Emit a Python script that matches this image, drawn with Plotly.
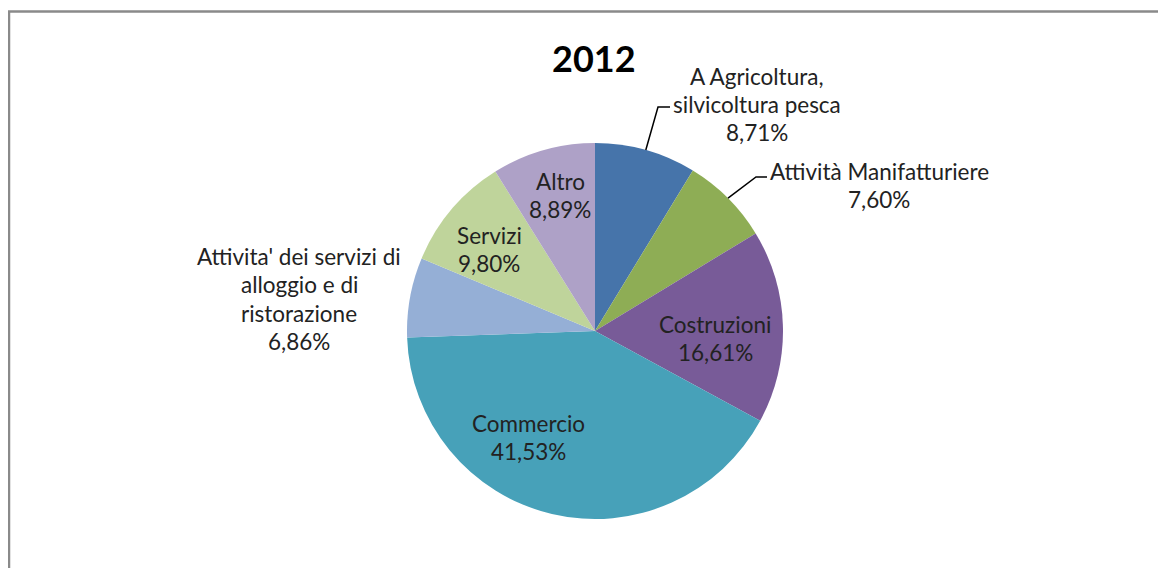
import math
import plotly.graph_objects as go

# ---- data ----
categories = [
    "A Agricoltura, silvicoltura pesca",
    "Attività Manifatturiere",
    "Costruzioni",
    "Commercio",
    "Attivita' dei servizi di alloggio e di ristorazione",
    "Servizi",
    "Altro",
]
values = [8.71, 7.60, 16.61, 41.53, 6.86, 9.80, 8.89]
pct_labels = ["8,71%", "7,60%", "16,61%", "41,53%", "6,86%", "9,80%", "8,89%"]
label_lines = [
    ["A Agricoltura,", "silvicoltura pesca"],
    ["Attività Manifatturiere"],
    ["Costruzioni"],
    ["Commercio"],
    ["Attivita' dei servizi di", "alloggio e di", "ristorazione"],
    ["Servizi"],
    ["Altro"],
]
colors = ["#4674AA", "#8EAD55", "#785B98", "#47A1B9", "#95AFD6", "#BFD49B", "#AEA1C7"]
title_text = "2012"

# ---- layout geometry (window pixels; page body has an 8px margin) ----
OFF = 8
W, H = 1166 - OFF, 568 - OFF
CX, CY, R = 595, 331, 188
FONT = "Lato, 'Open Sans', sans-serif"
LINE_H = 28.5


def px(x):
    return (x - OFF) / W


def py(y):
    return 1 - (y - OFF) / H


fig = go.Figure(go.Pie(
    labels=categories,
    values=values,
    sort=False,
    direction="clockwise",
    rotation=0,
    marker=dict(colors=colors, line=dict(width=0)),
    textinfo="none",
    hoverinfo="label+percent",
    showlegend=False,
    domain=dict(x=[px(CX - R), px(CX + R)], y=[py(CY + R), py(CY - R)]),
))

# label anchor centres (pixels): x, y of first line
label_pos = [
    (757, 76),
    (879, 171),
    (715, 324),
    (528, 423),
    (299, 256),
    (489, 235),
    (560, 181),
]

annotations = []
for lines, pct, (lx, ly) in zip(label_lines, pct_labels, label_pos):
    for i, t in enumerate(lines + [pct]):
        annotations.append(dict(
            x=px(lx), y=py(ly + i * LINE_H), xref="paper", yref="paper",
            text=t, showarrow=False, xanchor="center", yanchor="middle",
            font=dict(family=FONT, size=22.5, color="#222222"),
        ))

annotations.append(dict(
    x=px(594), y=py(58), xref="paper", yref="paper", text="<b>" + title_text + "</b>",
    showarrow=False, xanchor="center", yanchor="middle",
    font=dict(family=FONT, size=36, color="#000000"),
))

shapes = []
# frame
shapes.append(dict(type="rect", xref="paper", yref="paper",
                   x0=px(9), x1=px(1166 + 20), y0=py(568 + 20), y1=py(11.5),
                   line=dict(color="#8a8a8a", width=2.5), fillcolor="rgba(0,0,0,0)"))

# leader lines for outside labels (start at slice mid-angle on the rim)
cum = 0
total = sum(values)
mid_angles = []
for v in values:
    mid_angles.append((cum + v / 2) / total * 2 * math.pi)
    cum += v

leaders = {0: [(658, 107), (670, 107)], 1: [(756, 177), (767, 177)]}
for idx, pts in leaders.items():
    a = mid_angles[idx]
    sx, sy = CX + R * math.sin(a), CY - R * math.cos(a)
    path_pts = [(sx, sy)] + pts
    path = "M " + " L ".join(f"{px(x)},{py(y)}" for x, y in path_pts)
    shapes.append(dict(type="path", xref="paper", yref="paper", path=path,
                       line=dict(color="#000000", width=1.5)))

fig.update_layout(
    width=W, height=H,
    margin=dict(l=0, r=0, t=0, b=0),
    paper_bgcolor="white", plot_bgcolor="white",
    annotations=annotations, shapes=shapes,
)

fig.write_html("out.html")
